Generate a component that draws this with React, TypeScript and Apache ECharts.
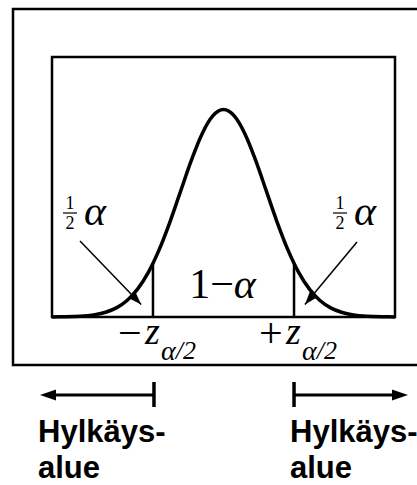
import React, { useEffect, useRef } from "react";
import * as echarts from "echarts";

// Standard normal density sampled every 0.25 units
const zValues = [
  -4, -3.75, -3.5, -3.25, -3, -2.75, -2.5, -2.25, -2, -1.75, -1.5, -1.25, -1, -0.75, -0.5, -0.25,
  0, 0.25, 0.5, 0.75, 1, 1.25, 1.5, 1.75, 2, 2.25, 2.5, 2.75, 3, 3.25, 3.5, 3.75, 4,
];
const densityValues = [
  0.0001, 0.0004, 0.0009, 0.002, 0.0044, 0.0091, 0.0175, 0.0317, 0.054, 0.0863, 0.1295, 0.1826,
  0.242, 0.3011, 0.3521, 0.3867, 0.3989, 0.3867, 0.3521, 0.3011, 0.242, 0.1826, 0.1295, 0.0863,
  0.054, 0.0317, 0.0175, 0.0091, 0.0044, 0.002, 0.0009, 0.0004, 0.0001,
];
// Critical values ±z(α/2) and the density there
const criticalZ = [-1.645, 1.645];
const criticalDensity = [0.1031, 0.1031];
// Points the "½α" pointers aim at (tail areas)
const tailTargets = [
  [-1.92, 0.024],
  [1.9, 0.024],
];
const rejectionLabel = "Hylkäys-\nalue";

const SERIF = "'Liberation Serif', 'Times New Roman', serif";
const SANS = "'Liberation Sans', Arial, sans-serif";

function arrowHead(tipX: number, tipY: number, fromX: number, fromY: number, len: number, half: number) {
  const dx = tipX - fromX;
  const dy = tipY - fromY;
  const d = Math.hypot(dx, dy) || 1;
  const ux = dx / d;
  const uy = dy / d;
  const bx = tipX - ux * len;
  const by = tipY - uy * len;
  return [
    [tipX, tipY],
    [bx - uy * half, by + ux * half],
    [bx + uy * half, by - ux * half],
  ];
}

export default function App() {
  const ref = useRef<HTMLDivElement>(null);

  useEffect(() => {
    if (!ref.current) return;
    const chart = echarts.init(ref.current, null, { renderer: "svg" });

    const curveData = zValues.map((z, i) => [z, densityValues[i]]);
    const criticalSeries = criticalZ.map((z, i) => ({
      type: "line",
      data: [
        [z, 0],
        [z, criticalDensity[i]],
      ],
      symbol: "none",
      silent: true,
      lineStyle: { color: "#000", width: 2.5 },
      z: 3,
    }));

    chart.setOption({
      animation: false,
      grid: {
        show: true,
        left: 52,
        right: 22,
        top: 57,
        bottom: 168,
        borderColor: "#000",
        borderWidth: 2.5,
        backgroundColor: "transparent",
      },
      xAxis: { type: "value", min: -4, max: 4, show: false },
      yAxis: { type: "value", min: 0, max: 0.5, show: false },
      series: [
        {
          type: "line",
          data: curveData,
          smooth: 0.35,
          symbol: "none",
          silent: true,
          clip: false,
          lineStyle: { color: "#000", width: 3.5 },
          z: 4,
        },
        ...criticalSeries,
      ],
    });

    const px = (p: number[]) => chart.convertToPixel({ gridIndex: 0 }, p) as number[];
    const [leftCritX] = px([criticalZ[0], 0]);
    const [rightCritX] = px([criticalZ[1], 0]);
    const [centerX] = px([0, 0]);

    const graphics: any[] = [];

    // outer frame
    graphics.push({
      type: "rect",
      shape: { x: 13, y: 9, width: 430, height: 356 },
      style: { fill: "none", stroke: "#000", lineWidth: 2.5 },
    });

    // "½α" labels with pointers into the tails
    const halfLabels = [
      { fracX: 70, alphaX: 84, startX: 80, startY: 241, target: tailTargets[0] },
      { fracX: 340, alphaX: 354, startX: 357, startY: 242, target: tailTargets[1] },
    ];
    halfLabels.forEach((h) => {
      graphics.push(
        {
          type: "text",
          x: h.fracX,
          y: 203,
          style: { text: "1", font: `18px ${SERIF}`, fill: "#000", align: "center", verticalAlign: "middle" },
        },
        {
          type: "line",
          shape: { x1: h.fracX - 7, y1: 213, x2: h.fracX + 7, y2: 213 },
          style: { stroke: "#000", lineWidth: 1.2 },
        },
        {
          type: "text",
          x: h.fracX,
          y: 223,
          style: { text: "2", font: `18px ${SERIF}`, fill: "#000", align: "center", verticalAlign: "middle" },
        },
        {
          type: "text",
          x: h.alphaX,
          y: 211,
          style: { text: "α", font: `italic 42px ${SERIF}`, fill: "#000", align: "left", verticalAlign: "middle" },
        }
      );
      const [tx, ty] = px(h.target);
      const head = arrowHead(tx, ty, h.startX, h.startY, 13, 4.5);
      graphics.push(
        {
          type: "line",
          shape: { x1: h.startX, y1: h.startY, x2: tx, y2: ty },
          style: { stroke: "#000", lineWidth: 1.5 },
          z: 10,
        },
        { type: "polygon", shape: { points: head }, style: { fill: "#000" }, z: 10 }
      );
    });

    // central area label "1−α"
    graphics.push({
      type: "text",
      x: centerX - 1,
      y: 284,
      style: {
        text: "{n|1−}{i|α}",
        align: "center",
        verticalAlign: "middle",
        rich: {
          n: { font: `42px ${SERIF}`, fill: "#000" },
          i: { font: `italic 42px ${SERIF}`, fill: "#000" },
        },
      },
    });

    // "∓z α/2" labels under the critical lines
    const zLabels = [
      { sign: "−", x: leftCritX },
      { sign: "+", x: rightCritX },
    ];
    zLabels.forEach((l) => {
      graphics.push(
        {
          type: "text",
          x: l.x - 35,
          y: 333,
          style: { text: l.sign, font: `42px ${SERIF}`, fill: "#000", align: "left", verticalAlign: "middle" },
        },
        {
          type: "text",
          x: l.x - 8,
          y: 331,
          style: { text: "z", font: `italic 38px ${SERIF}`, fill: "#000", align: "left", verticalAlign: "middle" },
        },
        {
          type: "text",
          x: l.x + 8,
          y: 350,
          style: {
            text: "{i|α}{n|/2}",
            align: "left",
            verticalAlign: "middle",
            rich: {
              i: { font: `italic 28px ${SERIF}`, fill: "#000" },
              n: { font: `italic 26px ${SERIF}`, fill: "#000" },
            },
          },
        }
      );
    });

    // rejection region arrows
    const arrowY = 395;
    graphics.push(
      {
        type: "line",
        shape: { x1: leftCritX + 1, y1: arrowY, x2: 50, y2: arrowY },
        style: { stroke: "#000", lineWidth: 3 },
      },
      { type: "polygon", shape: { points: arrowHead(40, arrowY, 60, arrowY, 16, 5.5) }, style: { fill: "#000" } },
      {
        type: "line",
        shape: { x1: leftCritX + 1, y1: 382, x2: leftCritX + 1, y2: 407 },
        style: { stroke: "#000", lineWidth: 3.5 },
      },
      {
        type: "line",
        shape: { x1: rightCritX, y1: arrowY, x2: 398, y2: arrowY },
        style: { stroke: "#000", lineWidth: 3 },
      },
      { type: "polygon", shape: { points: arrowHead(408, arrowY, 388, arrowY, 16, 5.5) }, style: { fill: "#000" } },
      {
        type: "line",
        shape: { x1: rightCritX, y1: 382, x2: rightCritX, y2: 407 },
        style: { stroke: "#000", lineWidth: 3.5 },
      }
    );

    // rejection region captions
    [38, 290].forEach((x) => {
      graphics.push({
        type: "text",
        x,
        y: 413,
        style: {
          text: rejectionLabel,
          font: `bold 31px ${SANS}`,
          lineHeight: 36,
          fill: "#000",
          align: "left",
          verticalAlign: "top",
        },
      });
    });

    chart.setOption({ graphic: graphics });

    return () => chart.dispose();
  }, []);

  return (
    <div
      ref={ref}
      style={{ position: "fixed", left: 0, top: 0, width: 417, height: 485, background: "#fff" }}
    />
  );
}
